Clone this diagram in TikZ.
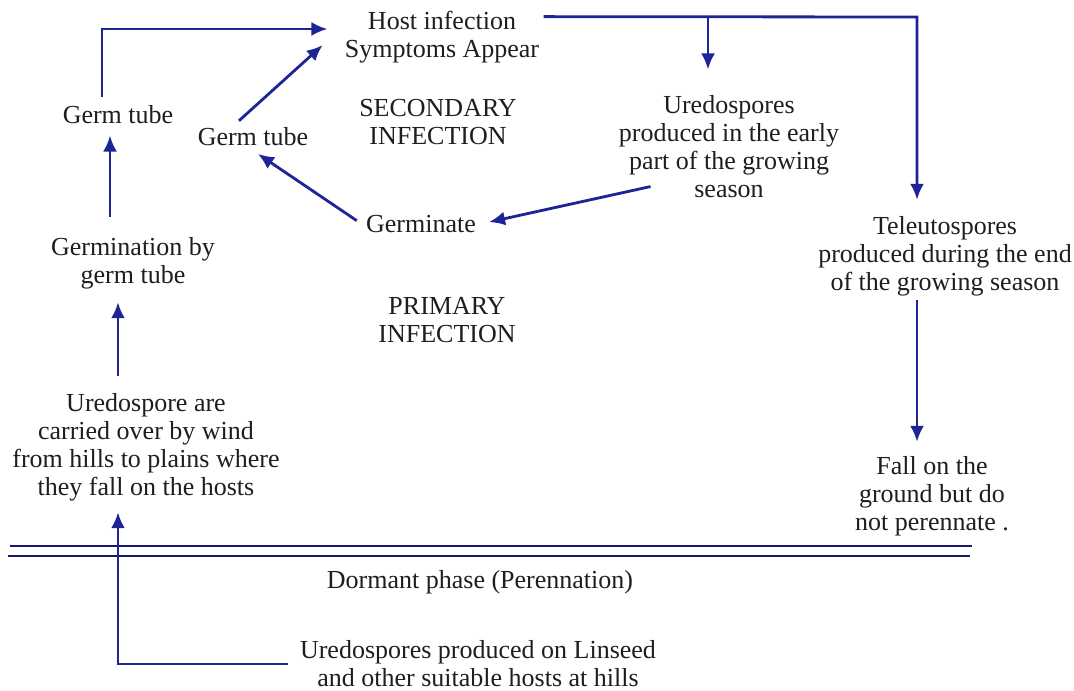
\documentclass[tikz,border=0pt]{standalone}
\usepackage{fontspec}
\setmainfont{Liberation Serif}
\usetikzlibrary{arrows.meta, positioning}
\definecolor{cycleblue}{RGB}{28,36,150}
\definecolor{inkgrey}{RGB}{30,30,30}

\begin{document}
\begin{tikzpicture}[x=0.5pt, y=-0.5pt,
  stage/.style={align=center, inner sep=2pt, text=inkgrey,
    font=\fontsize{13}{14}\selectfont},
  flow/.style={draw=cycleblue, line width=1.4pt,
    -{Latex[length=8pt,width=7pt]}},
  ground/.style={draw=cycleblue!70!black, line width=1.1pt}]

  \useasboundingbox (0,0) rectangle (1074,690);

  % secondary cycle on the plains
  \node [stage] (host) at (442,37) {Host infection\\Symptoms Appear};
  \node [stage] (germA) at (118,115) {Germ tube};
  \node [stage] (germB) at (253,137) {Germ tube};
  \node [stage] (second) at (438,122) {SECONDARY\\INFECTION};
  \node [stage] (uredo) at (729,147)
    {Uredospores\\produced in the early\\part of the growing\\season};
  \node [stage] (germinate) at (421,224) {Germinate};
  \node [stage] (teleuto) at (945,256)
    {Teleutospores\\produced during the end\\of the growing season};

  % primary infection from the hills
  \node [stage] (germination) at (133,263) {Germination by\\germ tube};
  \node [stage] (primary) at (447,320) {PRIMARY\\INFECTION};
  \node [stage] (carried) at (146,447)
    {Uredospore are\\carried over by wind\\from hills to plains where\\they fall on the hosts};
  \node [stage] (fall) at (932,496) {Fall on the\\ground but do\\not perennate .};

  % below the ground line
  \node [stage] (dormant) at (480,582) {Dormant phase (Perennation)};
  \node [stage] (linseed) at (478,664)
    {Uredospores produced on Linseed\\and other suitable hosts at hills};

  % bends of the connectors
  \coordinate (hillTurn) at (118,664);
  \coordinate (leftTurn) at (102,29);
  \coordinate (uredoDrop) at (708,17);
  \coordinate (teleTurn) at (917,17);

  % ground line
  \draw [ground] (10,546) -- (972,546);
  \draw [ground] (8,556) -- (970,556);

  % connectors
  \draw [flow, shorten <=4pt, shorten >=3.5pt] (linseed.west) -- (hillTurn) -- (hillTurn |- carried.south);
  \draw [flow, shorten <=6.5pt, shorten >=4.5pt] (carried.north -| hillTurn) -- (germination.south -| hillTurn);
  \draw [flow, shorten <=8pt, shorten >=3.5pt]
    ([xshift=-4pt]germA.south |- germination.north) -- ([xshift=-4pt]germA.south);
  \draw [flow, shorten <=2pt, shorten >=6.5pt] (germA.north -| leftTurn) -- (leftTurn) -- (leftTurn -| host.west);
  \draw [flow, shorten <=2pt, shorten >=12pt] ([xshift=-8.5pt]germB.north) -- ([yshift=4pt]host.west);
  \draw [flow, shorten <=3pt, shorten >=3pt] (germinate.west) -- (germB.south);
  \draw [flow, shorten >=4.5pt] ([shift={(18pt,8pt)}]uredo.south west) -- (germinate.east);
  \draw [flow, shorten >=6pt] ([yshift=-5pt]host.north east) -- (teleTurn) -- (teleTurn |- teleuto.north);
  \draw [flow, shorten >=11pt] (uredoDrop) -- (uredoDrop |- uredo.north);
  \draw [flow, shorten >=5pt] (teleuto.south -| teleTurn) -- (fall.north -| teleTurn);
\end{tikzpicture}
\end{document}
